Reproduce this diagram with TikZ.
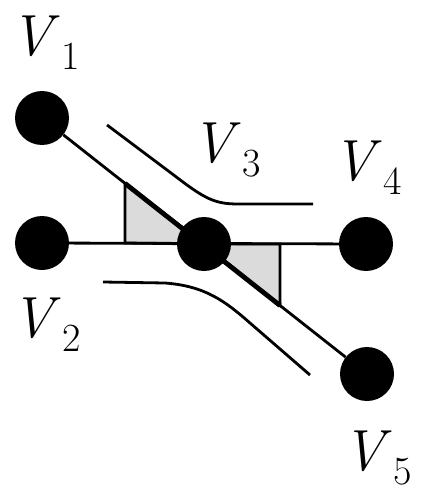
\documentclass[tikz,border=0pt]{standalone}
\usetikzlibrary{positioning,calc,backgrounds}
\newcommand{\vname}[1]{\textit{V}\kern1pt\raisebox{-14pt}{\fontsize{40}{40}\selectfont #1}}

\begin{document}
\begin{tikzpicture}[x=1pt, y=-1pt, line join=round]
        \tikzstyle{vertex}=[circle, fill=black, minimum size=54pt, inner sep=0pt]
        \tikzstyle{every label}=[font=\fontsize{58}{60}\selectfont, inner sep=0pt, label distance=21pt]
        \tikzstyle{wire}=[line width=2.8pt]
        \tikzstyle{wedge}=[wire, fill=black!14]
        \useasboundingbox (0,0) rectangle (420,500);

        \node[vertex, label={[xshift=3pt]above:\vname{1}}]                      (V1) at (42,118)  {};
        \node[vertex, label={[xshift=4pt, label distance=27pt]below:\vname{2}}]  (V2) at (42,243)  {};
        \node[vertex, label={[xshift=22pt, label distance=39pt]above:\vname{3}}] (V3) at (204,244) {};
        \node[vertex, label={[xshift=1pt, label distance=22pt]above:\vname{4}}]  (V4) at (366,244) {};
        \node[vertex, label={[xshift=10pt, label distance=29pt]below:\vname{5}}] (V5) at (367,374) {};

        \coordinate (T1) at (intersection of V1.center--V5.center and 125,0--125,500);
        \coordinate (T2) at (intersection of V1.center--V5.center and 280,0--280,500);

        % shaded wedges and edges under the vertices
        \begin{pgfonlayer}{background}
            \draw[wedge] (T1) -- (T1 |- V2) -- (V3.center) -- cycle;
            \draw[wedge] (V3.center) -- (T2 |- V3) -- (T2) -- cycle;
            \draw[wire] (V2) -- (V4);
            \draw[wire] (V1) -- (V5);
            \draw[line width=4.8pt] (T1) -- (T2);
        \end{pgfonlayer}

        % guide curves
        \draw[wire] (107,125) -- (175,176) .. controls (205,199) and (215,204) .. (238,204) -- (313,204);
        \draw[wire] (103,282) -- (165,283) .. controls (205,286) and (225,301) .. (250,323) -- (310,375);
\end{tikzpicture}
\end{document}
